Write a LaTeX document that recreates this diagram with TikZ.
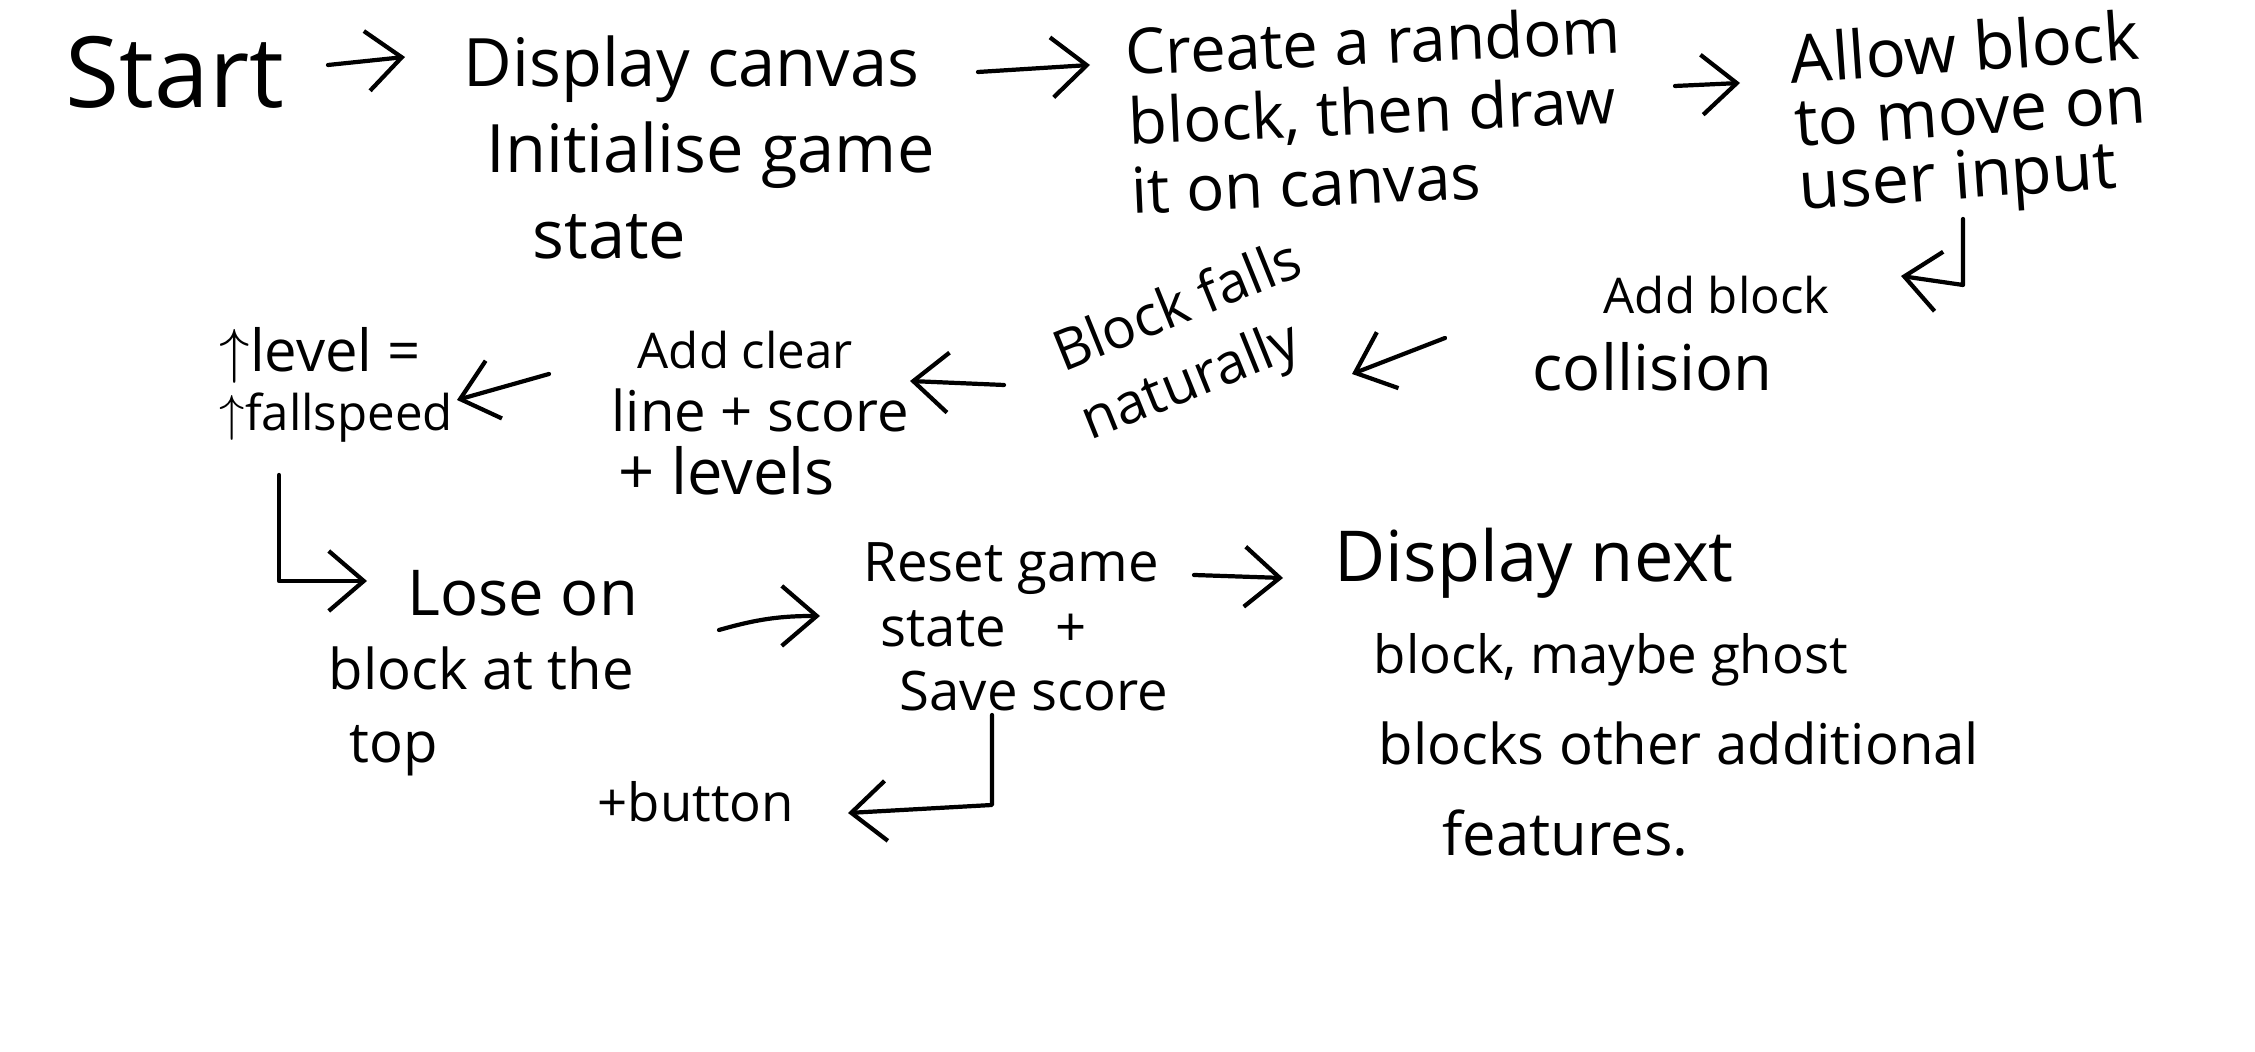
\documentclass[tikz,border=0pt]{standalone}
\usepackage{fontspec}
\setmainfont{Open Sans}
\usetikzlibrary{arrows.meta}
\newcommand{\handfont}[2]{\fontsize{#1}{#2}\selectfont}
\tikzset{
  txt/.style={anchor=base west, align=left, inner sep=0pt},
  flow/.style={-{Straight Barb[length=3.5mm,width=6mm]}, line width=1.2pt, line cap=round, line join=round}
}

\begin{document}
\begin{tikzpicture}
\useasboundingbox (0,0) rectangle (22.55,-10.52);

\node[txt, font=\handfont{28}{30}] (start) at (0.65,-1.08) {Start};
\node[txt, font=\handfont{19}{24.5}] (display) at (4.63,-2.59) {Display canvas\\\hspace*{0.23cm}Initialise game\\\hspace*{0.69cm}state};
\node[txt, font=\handfont{18}{19.8}, rotate=2.5] (create) at (11.32,-2.14) {Create a random\\block, then draw\\it on canvas};
\node[txt, font=\handfont{19}{18}, rotate=4] (allow) at (18.0,-2.1) {Allow block\\to move on\\user input};
\node[txt, font=\handfont{18}{22}] (collision) at (15.32,-3.91) {\hspace*{0.71cm}{\handfont{14}{22}Add block}\\collision};
\node[txt, font=\handfont{16}{21}, rotate=22] (falls) at (10.9,-4.41) {Block falls\\naturally};
\node[txt, font=\handfont{16}{18}] (clear) at (6.11,-4.95) {\hspace*{0.26cm}{\handfont{14}{18}Add clear}\\line + score\\\hspace*{0.07cm}{\handfont{18}{18}+ levels}};
\node[txt, font=\handfont{14}{17}] (level) at (2.19,-4.31) {{\handfont{16.5}{17}$\uparrow$level =}\\$\uparrow$fallspeed};
\node[txt, font=\handfont{16}{21}] (lose) at (3.28,-7.63) {\hspace*{0.79cm}{\handfont{18}{21}Lose on}\\block at the\\\hspace*{0.21cm}top};
\node[txt, font=\handfont{15.5}{18.4}] (reset) at (8.63,-7.11) {Reset game\\\hspace*{0.17cm}state\hspace{0.5cm}+\\\hspace*{0.36cm}Save score};
\node[txt, font=\handfont{15}{18}] (button) at (5.97,-8.22) {+button};
\node[txt, font=\handfont{16}{26}] (next) at (13.34,-8.56) {{\handfont{20}{26}Display next}\\\hspace*{0.39cm}{\handfont{15}{26}block, maybe ghost}\\\hspace*{0.44cm}blocks other additional\\\hspace*{1.08cm}{\handfont{17}{26}features.}};

\draw[flow] ([shift={(2.63,0.43)}]start.base west) -- ([shift={(-0.58,2.02)}]display.base west);
\draw[flow] ([shift={(5.15,1.87)}]display.base west) -- ([shift={(-0.42,1.49)}]create.base west);
\draw[flow] ([shift={(5.43,1.28)}]create.base west) -- ([shift={(-0.60,1.27)}]allow.base west);
\draw[flow] ([shift={(1.63,-0.09)}]allow.base west) -- ++(0,-0.66) -- ([shift={(3.69,1.15)}]collision.base west);
\draw[flow] ([shift={(-0.87,0.53)}]collision.base west) -- ([shift={(2.62,0.67)}]falls.base west);
\draw[flow] ([shift={(-0.86,0.56)}]falls.base west) -- ([shift={(2.99,1.14)}]clear.base west);
\draw[flow] ([shift={(-0.62,1.21)}]clear.base west) -- ([shift={(2.38,0.31)}]level.base west);
\draw[flow] ([shift={(0.60,-0.44)}]level.base west) |- ([shift={(0.39,1.82)}]lose.base west);
\draw[flow] ([shift={(3.91,1.33)}]lose.base west) to[bend left=8] ([shift={(-0.43,0.95)}]reset.base west);
\draw[flow] ([shift={(3.31,1.36)}]reset.base west) -- ([shift={(-0.51,2.78)}]next.base west);
\draw[flow] ([shift={(1.29,-0.04)}]reset.base west) -- ++(0,-0.9) -- ([shift={(2.51,0.09)}]button.base west);
\end{tikzpicture}
\end{document}
